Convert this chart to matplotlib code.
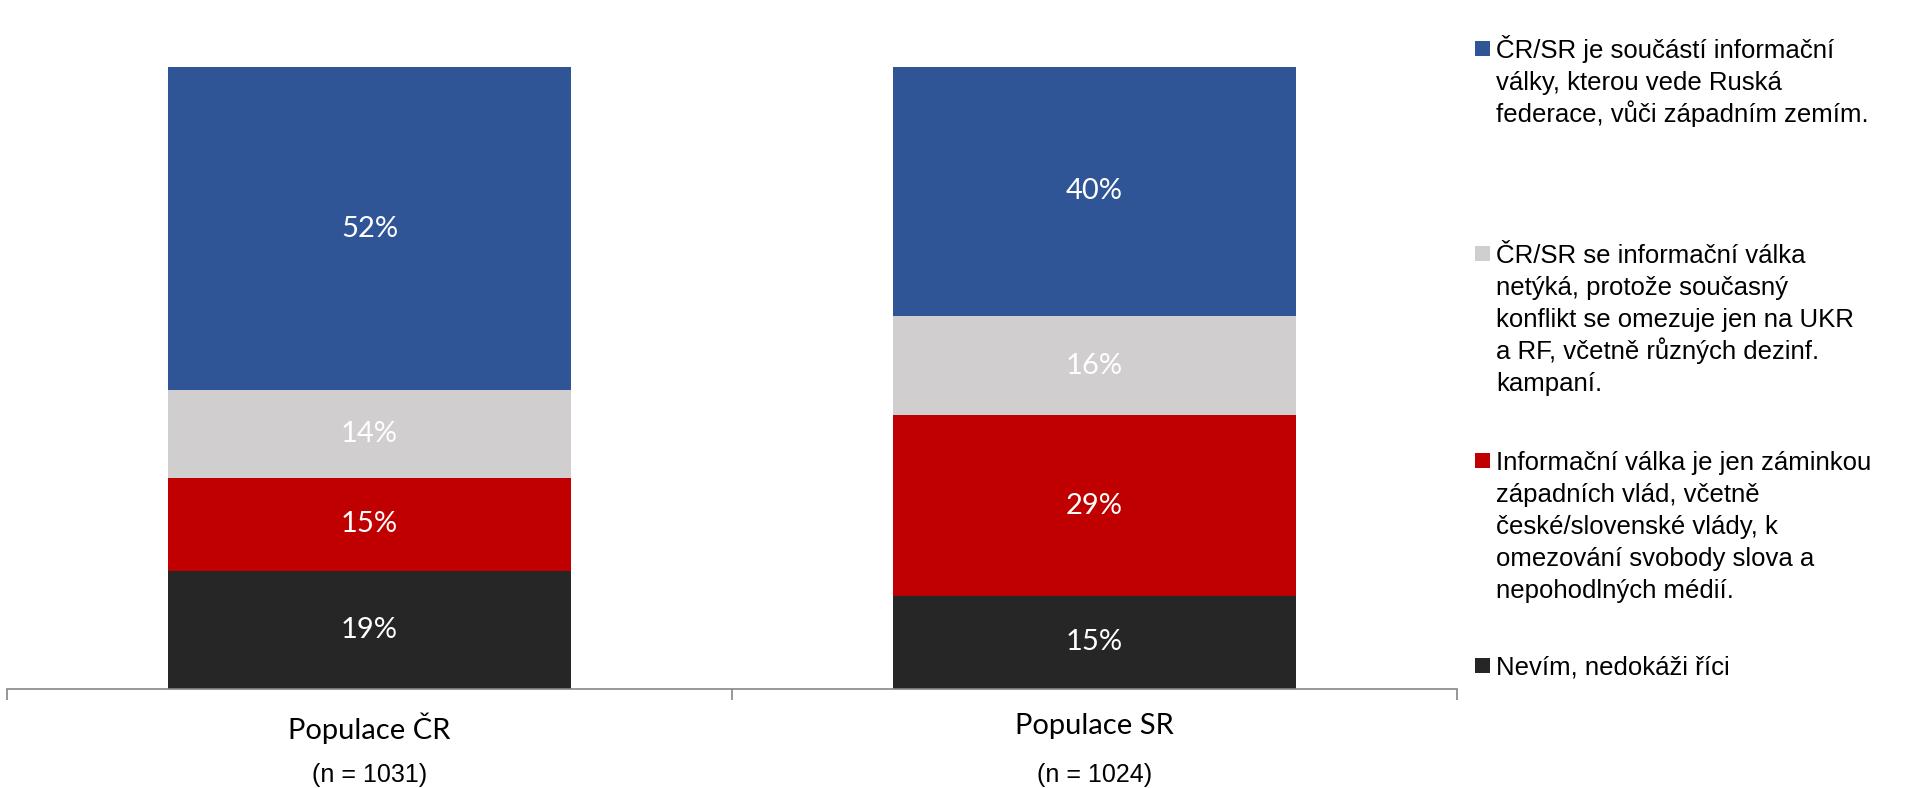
import matplotlib
matplotlib.use("Agg")
import matplotlib.pyplot as plt
from matplotlib.patches import Rectangle
import numpy as np

categories = ["Populace ČR", "Populace SR"]
sample_sizes = ["(n = 1031)", "(n = 1024)"]
series_names = [
    "ČR/SR je součástí informační\nválky, kterou vede Ruská\nfederace, vůči západním zemím.",
    "ČR/SR se informační válka\nnetýká, protože současný\nkonflikt se omezuje jen na UKR\na RF, včetně různých dezinf.\nkampaní.",
    "Informační válka je jen záminkou\nzápadních vlád, včetně\nčeské/slovenské vlády, k\nomezování svobody slova a\nnepohodlných médií.",
    "Nevím, nedokáži říci",
]
# bottom-to-top stacking order: Nevím, Informační válka..., netýká, součástí
val_nevim = [19, 15]
val_zaminka = [15, 29]
val_netyka = [14, 16]
val_soucast = [52, 40]

colors = {"soucast": "#2F5597", "netyka": "#D0CECE", "zaminka": "#C00000", "nevim": "#262626"}

fig = plt.figure(figsize=(19.08, 7.88), dpi=100)
ax = fig.add_axes([0.0037, 0.1256, 0.7599, 0.7894])

x = np.arange(len(categories))
width = 0.557
stack = [
    (val_nevim, colors["nevim"]),
    (val_zaminka, colors["zaminka"]),
    (val_netyka, colors["netyka"]),
    (val_soucast, colors["soucast"]),
]
bottom = np.zeros(len(categories))
for vals, col in stack:
    vals = np.array(vals, dtype=float)
    ax.bar(x, vals, width, bottom=bottom, color=col, edgecolor="none")
    for xi, b, v in zip(x, bottom, vals):
        ax.text(xi, b + v / 2, f"{int(v)}%", ha="center", va="center",
                color="white", fontsize=21, family=["Lato", "DejaVu Sans"])
    bottom += vals

ax.set_xlim(-0.5, 1.5)
ax.set_ylim(0, 100)
for s in ["top", "right", "left"]:
    ax.spines[s].set_visible(False)
ax.spines["bottom"].set_color("#868686")
ax.spines["bottom"].set_linewidth(1.2)
ax.set_yticks([])
ax.set_xticks(x)
ax.set_xticklabels(categories, fontsize=21, family=["Lato", "DejaVu Sans"], color="#000000")
ax.tick_params(axis="x", which="major", length=0, pad=17)
ax.set_xticks([-0.5, 0.5, 1.5], minor=True)
ax.tick_params(axis="x", which="minor", length=8, width=1.2, color="#868686", direction="out")

trans = ax.get_xaxis_transform()
for xi, n in zip(x, sample_sizes):
    ax.annotate(n, xy=(xi, 0), xycoords=trans, xytext=(0, -86), textcoords="offset pixels",
                ha="center", va="center", fontsize=18, family=["Liberation Sans", "DejaVu Sans"])

# legend (manual, Excel-like layout)
leg_colors = [colors["soucast"], colors["netyka"], colors["zaminka"], colors["nevim"]]
first_baselines = [58, 263, 470, 675]  # pixels from top
line_step = 32
W, H = 1908, 788
for name, col, yb in zip(series_names, leg_colors, first_baselines):
    sq = 15
    fig.add_artist(Rectangle((1475 / W, 1 - (yb - 2) / H), sq / W, sq / H,
                             transform=fig.transFigure, color=col, lw=0))
    for i, line in enumerate(name.split("\n")):
        fig.text(1496 / W, 1 - (yb + i * line_step) / H, line, ha="left", va="baseline",
                 fontsize=18.5, family=["Liberation Sans", "DejaVu Sans"], color="#000000")

fig.savefig("out.png", dpi=100)
